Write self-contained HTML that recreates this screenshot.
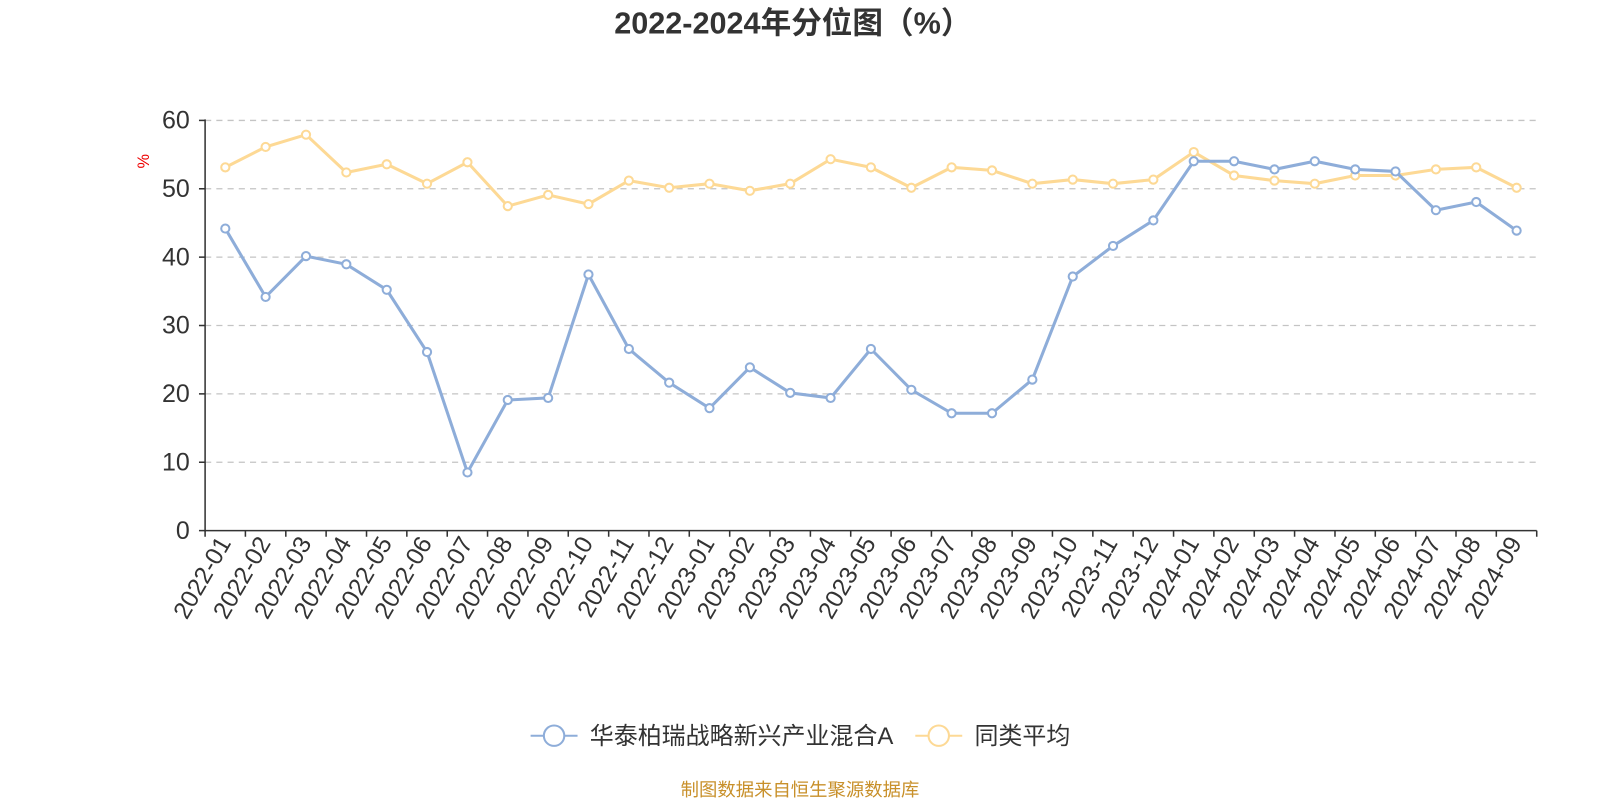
<!DOCTYPE html>
<html><head><meta charset="utf-8"><style>
html,body{margin:0;padding:0;background:#fff;}
svg text{font-family:"Liberation Sans","Noto Sans CJK SC",sans-serif;}
</style></head><body>
<svg width="1600" height="800" xmlns="http://www.w3.org/2000/svg">
<defs>
<marker id="mb" markerWidth="12" markerHeight="12" refX="6" refY="6" markerUnits="userSpaceOnUse"><circle cx="6" cy="6" r="4" fill="#fff" stroke="#8eadd9" stroke-width="2"/></marker>
<marker id="my" markerWidth="12" markerHeight="12" refX="6" refY="6" markerUnits="userSpaceOnUse"><circle cx="6" cy="6" r="4" fill="#fff" stroke="#fdd995" stroke-width="2"/></marker>
</defs>
<g transform="scale(1.0204)">
<text x="777" y="33" text-anchor="middle" font-size="30" font-weight="bold" fill="#333">2022-2024年分位图（%）</text>
<text x="0" y="0" transform="translate(146,158) rotate(-90)" text-anchor="middle" font-size="16" fill="#e00">%</text>
<g stroke="#c4c4c4" stroke-width="1.3" stroke-dasharray="6,5">
<line x1="201" x2="1506" y1="453" y2="453"/><line x1="201" x2="1506" y1="386" y2="386"/>
<line x1="201" x2="1506" y1="319" y2="319"/><line x1="201" x2="1506" y1="252" y2="252"/>
<line x1="201" x2="1506" y1="185" y2="185"/><line x1="201" x2="1506" y1="118" y2="118"/>
</g>
<g font-size="24.5" fill="#333" text-anchor="end">
<text x="186" y="528">0</text><text x="186" y="461">10</text><text x="186" y="394">20</text>
<text x="186" y="327">30</text><text x="186" y="260">40</text><text x="186" y="193">50</text><text x="186" y="126">60</text>
</g>
<g stroke="#333" stroke-width="1.5">
<line x1="201" y1="117" x2="201" y2="521"/><line x1="195" y1="118" x2="201" y2="118"/>
<line x1="195" y1="185" x2="201" y2="185"/><line x1="195" y1="252" x2="201" y2="252"/>
<line x1="195" y1="319" x2="201" y2="319"/><line x1="195" y1="386" x2="201" y2="386"/>
<line x1="195" y1="453" x2="201" y2="453"/><line x1="195" y1="520" x2="201" y2="520"/>
<line x1="201" y1="520" x2="1506" y2="520"/>
<path id="ticks" d=""/>
</g>
<polyline fill="none" stroke="#fdd995" stroke-width="3" marker-start="url(#my)" marker-mid="url(#my)" marker-end="url(#my)" points="220.8,164 260.3,144 299.9,132 339.4,169 379.0,161 418.5,180 458.1,159 497.6,202 537.2,191 576.7,200 616.3,177 655.8,184 695.3,180 734.9,187 774.4,180 814.0,156 853.5,164 893.1,184 932.6,164 972.2,167 1011.7,180 1051.3,176 1090.8,180 1130.3,176 1169.9,149 1209.4,172 1249.0,177 1288.5,180 1328.1,172 1367.6,172 1407.2,166 1446.7,164 1486.3,184"/>
<polyline fill="none" stroke="#8eadd9" stroke-width="3" marker-start="url(#mb)" marker-mid="url(#mb)" marker-end="url(#mb)" points="220.8,224 260.3,291 299.9,251 339.4,259 379.0,284 418.5,345 458.1,463 497.6,392 537.2,390 576.7,269 616.3,342 655.8,375 695.3,400 734.9,360 774.4,385 814.0,390 853.5,342 893.1,382 932.6,405 972.2,405 1011.7,372 1051.3,271 1090.8,241 1130.3,216 1169.9,158 1209.4,158 1249.0,166 1288.5,158 1328.1,166 1367.6,168 1407.2,206 1446.7,198 1486.3,226"/>
<g font-size="24" fill="#333" text-anchor="end">
<text transform="translate(227,532) rotate(-60)">2022-01</text>
<text transform="translate(266,532) rotate(-60)">2022-02</text>
<text transform="translate(306,532) rotate(-60)">2022-03</text>
<text transform="translate(345,532) rotate(-60)">2022-04</text>
<text transform="translate(385,532) rotate(-60)">2022-05</text>
<text transform="translate(424,532) rotate(-60)">2022-06</text>
<text transform="translate(464,532) rotate(-60)">2022-07</text>
<text transform="translate(503,532) rotate(-60)">2022-08</text>
<text transform="translate(543,532) rotate(-60)">2022-09</text>
<text transform="translate(582,532) rotate(-60)">2022-10</text>
<text transform="translate(622,532) rotate(-60)">2022-11</text>
<text transform="translate(661,532) rotate(-60)">2022-12</text>
<text transform="translate(701,532) rotate(-60)">2023-01</text>
<text transform="translate(740,532) rotate(-60)">2023-02</text>
<text transform="translate(780,532) rotate(-60)">2023-03</text>
<text transform="translate(820,532) rotate(-60)">2023-04</text>
<text transform="translate(859,532) rotate(-60)">2023-05</text>
<text transform="translate(899,532) rotate(-60)">2023-06</text>
<text transform="translate(938,532) rotate(-60)">2023-07</text>
<text transform="translate(978,532) rotate(-60)">2023-08</text>
<text transform="translate(1017,532) rotate(-60)">2023-09</text>
<text transform="translate(1057,532) rotate(-60)">2023-10</text>
<text transform="translate(1096,532) rotate(-60)">2023-11</text>
<text transform="translate(1136,532) rotate(-60)">2023-12</text>
<text transform="translate(1176,532) rotate(-60)">2024-01</text>
<text transform="translate(1215,532) rotate(-60)">2024-02</text>
<text transform="translate(1255,532) rotate(-60)">2024-03</text>
<text transform="translate(1294,532) rotate(-60)">2024-04</text>
<text transform="translate(1334,532) rotate(-60)">2024-05</text>
<text transform="translate(1373,532) rotate(-60)">2024-06</text>
<text transform="translate(1413,532) rotate(-60)">2024-07</text>
<text transform="translate(1452,532) rotate(-60)">2024-08</text>
<text transform="translate(1492,532) rotate(-60)">2024-09</text>
</g>
<line x1="520" y1="721" x2="566" y2="721" stroke="#8eadd9" stroke-width="2"/>
<circle cx="543" cy="721" r="10" fill="#fff" stroke="#8eadd9" stroke-width="2"/>
<text x="578" y="729" font-size="23.5" fill="#333">华泰柏瑞战略新兴产业混合A</text>
<line x1="897" y1="721" x2="943" y2="721" stroke="#fdd995" stroke-width="2"/>
<circle cx="920" cy="721" r="10" fill="#fff" stroke="#fdd995" stroke-width="2"/>
<text x="955" y="729" font-size="23.5" fill="#333">同类平均</text>
<text x="784" y="780" text-anchor="middle" font-size="18" fill="#c8902a">制图数据来自恒生聚源数据库</text>
</g>
</svg>
<script>
var d="";for(var k=0;k<=33;k++){var x=(201+39.545*k).toFixed(1);d+="M"+x+" 520V526";}
document.getElementById("ticks").setAttribute("d",d);
</script>
</body></html>
